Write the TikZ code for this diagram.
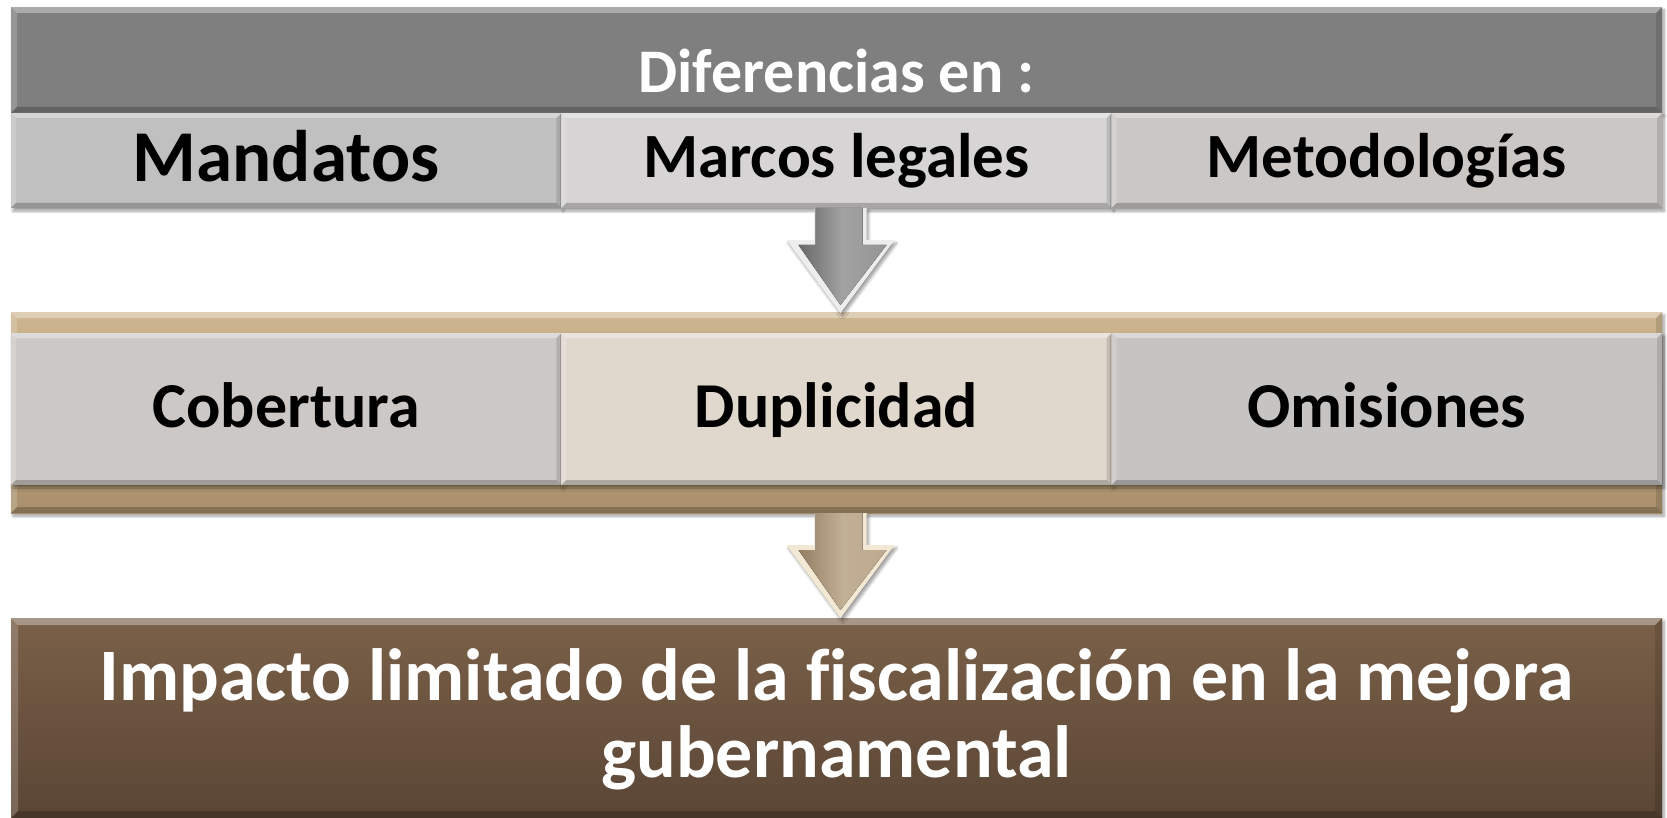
\documentclass[tikz,border=0pt]{standalone}
\usepackage{fontspec}
\setmainfont{Carlito}[Ligatures=NoCommon]
\usetikzlibrary{calc,shadows.blur}
\definecolor{hdrgray}{HTML}{7F7F7F}
\definecolor{cellA}{HTML}{C0C0C1}
\definecolor{cellB}{HTML}{D6D4D4}
\definecolor{cellC}{HTML}{CBC7C5}
\definecolor{tanT}{HTML}{CDB58F}
\definecolor{tanB}{HTML}{A98F6B}
\definecolor{cellD}{HTML}{CCC8C5}
\definecolor{cellE}{HTML}{E0D7CD}
\definecolor{cellF}{HTML}{C6C4C2}
\definecolor{brownT}{HTML}{7A6048}
\definecolor{brownB}{HTML}{5A4535}
\definecolor{arrowgray}{HTML}{7A7A7A}
\definecolor{arrowgrayL}{HTML}{EDEDED}
\definecolor{arrowtan}{HTML}{AC9473}
\definecolor{arrowtanL}{HTML}{F3E8D4}
\tikzset{
  bevel/.style={path picture={
    \path (path picture bounding box.north west) coordinate (bNW)
          (path picture bounding box.north east) coordinate (bNE)
          (path picture bounding box.south west) coordinate (bSW)
          (path picture bounding box.south east) coordinate (bSE);
    \fill[white,opacity=.35] (bNW) -- (bNE) -- ([xshift=-#1,yshift=-#1]bNE) -- ([xshift=#1,yshift=-#1]bNW) -- cycle;
    \fill[white,opacity=.18] (bNW) -- ([xshift=#1,yshift=-#1]bNW) -- ([xshift=#1,yshift=#1]bSW) -- (bSW) -- cycle;
    \fill[black,opacity=.22] (bSW) -- (bSE) -- ([xshift=-#1,yshift=#1]bSE) -- ([xshift=#1,yshift=#1]bSW) -- cycle;
    \fill[black,opacity=.12] (bNE) -- (bSE) -- ([xshift=-#1,yshift=#1]bSE) -- ([xshift=-#1,yshift=-#1]bNE) -- cycle;
  }},
  box/.style={rectangle, draw=none, inner sep=0pt, outer sep=0pt, anchor=north west},
  shad/.style={blur shadow={shadow xshift=2pt,shadow yshift=-3pt,shadow opacity=40,shadow blur steps=6,shadow blur radius=3pt}},
  lbl/.style={anchor=base, inner sep=0pt, text=black, font=\bfseries\fontsize{63pt}{70pt}\selectfont},
  wlbl/.style={lbl, text=white},
}
\begin{document}
\begin{tikzpicture}[x=1pt,y=-1pt]
\useasboundingbox (0,0) rectangle (1667,818);

% ---- top block
\node[box, shad, fill=hdrgray, bevel=6pt, minimum width=1651pt, minimum height=106pt] (hdr) at (11,7) {};
\node[box, shad, fill=cellA, bevel=5pt, minimum width=550.33pt, minimum height=95pt] (cA) at (11,113) {};
\node[box, shad, fill=cellB, bevel=5pt, minimum width=550.33pt, minimum height=95pt] (cB) at (561.33,113) {};
\node[box, shad, fill=cellC, bevel=5pt, minimum width=550.33pt, minimum height=95pt] (cC) at (1111.67,113) {};

\node[wlbl, font=\bfseries\fontsize{62pt}{70pt}\selectfont] (tdif) at ($(hdr.south)+(0,-20)$) {Diferencias en :};
\node[lbl, font=\bfseries\fontsize{73pt}{80pt}\selectfont] (tman) at ($(cA.south)+(0,-26)$) {Mandatos};
\node[lbl] (tmar) at ($(cB.south)+(0,-30)$) {Marcos legales};
\node[lbl] (tmet) at ($(cC.south)+(0,-30)$) {Metodologías};

% ---- middle block
\node[box, shad, top color=tanT, bottom color=tanB, bevel=6pt, minimum width=1651pt, minimum height=201pt] (tanF) at (11,312) {};
\node[box, shad, fill=cellD, bevel=5pt, minimum width=550.33pt, minimum height=152pt] (cD) at (11,333) {};
\node[box, shad, fill=cellE, bevel=5pt, minimum width=550.33pt, minimum height=152pt] (cE) at (561.33,333) {};
\node[box, shad, fill=cellF, bevel=5pt, minimum width=550.33pt, minimum height=152pt] (cF) at (1111.67,333) {};

\node[lbl, font=\bfseries\fontsize{64pt}{70pt}\selectfont] (tcob) at ($(cD.south)+(0,-58)$) {Cobertura};
\node[lbl, font=\bfseries\fontsize{64pt}{70pt}\selectfont] (tdup) at ($(cE.south)+(0,-58)$) {Duplicidad};
\node[lbl, font=\bfseries\fontsize{64pt}{70pt}\selectfont] (tomi) at ($(cF.south)+(0,-58)$) {Omisiones};

% ---- bottom block
\node[box, shad, top color=brownT, bottom color=brownB, bevel=7pt, minimum width=1651pt, minimum height=200pt] (imp) at (11,618) {};
\node[wlbl, align=center, font=\bfseries\fontsize{74pt}{77pt}\selectfont] (timp) at ($(imp.north)+(0,159)$) {Impacto limitado de la fiscalización en la mejora\\gubernamental};

% ---- arrows
\coordinate (a1s) at ($(cB.south)+(4,0)$);
\coordinate (a1t) at ($(tanF.north)+(4,1)$);
\fill[arrowgrayL, shad] ($(a1s)+(-26,0)$) -- ($(a1s)+(26,0)$) -- ($(a1t)+(26,-73)$) -- ($(a1t)+(54,-73)$) -- (a1t) -- ($(a1t)+(-54,-73)$) -- ($(a1t)+(-26,-73)$) -- cycle;
\fill[left color=arrowgray!85!black, right color=arrowgray!80!white, middle color=arrowgray!70!white] ($(a1s)+(-25,0)$) -- ($(a1s)+(22,0)$) -- ($(a1t)+(22,-68)$) -- ($(a1t)+(46,-68)$) -- ($(a1t)+(0,-8)$) -- ($(a1t)+(-42,-68)$) -- ($(a1t)+(-25,-68)$) -- cycle;

\coordinate (a2s) at ($(tanF.south)+(4,0)$);
\coordinate (a2t) at ($(imp.north)+(4,0)$);
\fill[arrowtanL, shad] ($(a2s)+(-26,0)$) -- ($(a2s)+(26,0)$) -- ($(a2t)+(26,-73)$) -- ($(a2t)+(54,-73)$) -- (a2t) -- ($(a2t)+(-54,-73)$) -- ($(a2t)+(-26,-73)$) -- cycle;
\fill[left color=arrowtan!85!black, right color=arrowtan!80!white, middle color=arrowtan!75!white] ($(a2s)+(-25,0)$) -- ($(a2s)+(22,0)$) -- ($(a2t)+(22,-68)$) -- ($(a2t)+(46,-68)$) -- ($(a2t)+(0,-8)$) -- ($(a2t)+(-42,-68)$) -- ($(a2t)+(-25,-68)$) -- cycle;
\end{tikzpicture}
\end{document}
